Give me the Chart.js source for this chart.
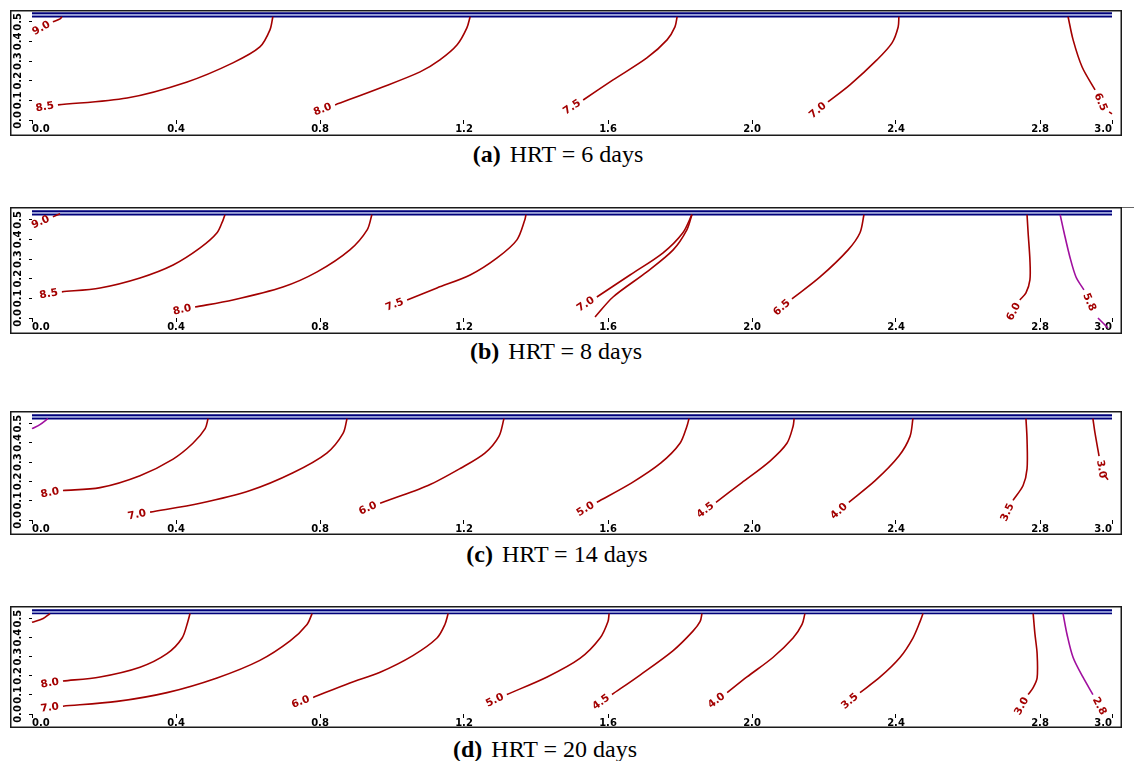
<!DOCTYPE html>
<html>
<head>
<meta charset="utf-8">
<script src="https://cdn.jsdelivr.net/npm/chart.js"></script>
<style>
  body { margin: 0; background: #fff; width: 1134px; height: 761px; position: relative; overflow: hidden; }
  canvas { position: absolute; left: 10px; }
  .cap { position: absolute; font-family: "Liberation Serif", "Times New Roman", serif; font-size: 24px;
         line-height: 24px; white-space: nowrap; transform: translateX(-50%); color: #000; }
  .cap b { margin-right: 9px; }
  .ext { position: absolute; height: 1px; background: #666; }
</style>
</head>
<body>
<div class="ext" style="left:1121px;top:207px;width:13px"></div>
<script>
// axis ticks
var xTicks = [0.0, 0.4, 0.8, 1.2, 1.6, 2.0, 2.4, 2.8, 3.0];
var yTicks = [0.0, 0.1, 0.2, 0.3, 0.4, 0.5];
// free surface (double line at the top)
var surfaceY = [0.544, 0.527];

// captions
var captionLetters = ['(a)', '(b)', '(c)', '(d)'];
var hrtDays = [6, 8, 14, 20];

// (a) HRT = 6 days -- each line starts at its label end
var aLevels = ['9.0', '8.5', '8.0', '7.5', '7.0', '6.5', ''];
var aLines = [
  [[0.058,0.500],[0.078,0.515],[0.083,0.526]],
  [[0.072,0.077],[0.264,0.112],[0.431,0.194],[0.558,0.291],[0.633,0.372],[0.661,0.459],[0.669,0.526]],
  [[0.842,0.077],[0.967,0.163],[1.078,0.245],[1.133,0.306],[1.181,0.383],[1.208,0.469],[1.217,0.526]],
  [[1.531,0.102],[1.614,0.204],[1.708,0.316],[1.764,0.408],[1.786,0.474],[1.792,0.526]],
  [[2.211,0.092],[2.272,0.179],[2.347,0.306],[2.389,0.393],[2.406,0.474],[2.408,0.526]],
  [[2.953,0.153],[2.917,0.270],[2.892,0.408],[2.878,0.526]],
  [[2.992,0.041],[3.000,0.031]]
];
var aLimitLevels = [];
var aLimitLines = [];

// (b) HRT = 8 days
var bLevels = ['9.0', '8.5', '8.0', '7.5', '7.0', '', '6.5', '6.0'];
var bLines = [
  [[0.058,0.515],[0.078,0.531]],
  [[0.083,0.133],[0.189,0.153],[0.300,0.204],[0.392,0.270],[0.467,0.357],[0.514,0.434],[0.531,0.500],[0.536,0.526]],
  [[0.453,0.056],[0.558,0.092],[0.697,0.158],[0.792,0.235],[0.883,0.347],[0.931,0.449],[0.944,0.526]],
  [[1.042,0.092],[1.125,0.153],[1.217,0.219],[1.292,0.306],[1.347,0.398],[1.369,0.500],[1.372,0.526]],
  [[1.569,0.107],[1.661,0.219],[1.753,0.332],[1.808,0.434],[1.833,0.526]],
  [[1.564,0.005],[1.614,0.107],[1.708,0.235],[1.781,0.347],[1.819,0.449],[1.833,0.526]],
  [[2.111,0.097],[2.189,0.209],[2.267,0.347],[2.300,0.434],[2.311,0.526]],
  [[2.744,0.092],[2.761,0.128],[2.772,0.194],[2.772,0.296],[2.767,0.434],[2.764,0.526]]
];
var bLimitLevels = ['5.8', ''];
var bLimitLines = [
  [[2.922,0.143],[2.900,0.209],[2.883,0.311],[2.867,0.434],[2.856,0.526]],
  [[2.961,0.000],[2.989,-0.051]]
];

// (c) HRT = 14 days
var cLevels = ['8.0', '7.0', '6.0', '5.0', '4.5', '4.0', '3.5', '3.0', ''];
var cLines = [
  [[0.086,0.153],[0.189,0.168],[0.300,0.230],[0.392,0.316],[0.447,0.398],[0.481,0.474],[0.489,0.526]],
  [[0.328,0.041],[0.467,0.087],[0.606,0.153],[0.725,0.245],[0.819,0.347],[0.864,0.449],[0.875,0.526]],
  [[0.967,0.087],[1.100,0.179],[1.192,0.270],[1.258,0.347],[1.297,0.434],[1.311,0.526]],
  [[1.569,0.092],[1.667,0.194],[1.747,0.296],[1.800,0.398],[1.819,0.485],[1.825,0.526]],
  [[1.900,0.092],[1.972,0.194],[2.050,0.306],[2.097,0.398],[2.114,0.485],[2.117,0.526]],
  [[2.269,0.092],[2.342,0.204],[2.408,0.332],[2.439,0.434],[2.447,0.526]],
  [[2.725,0.102],[2.753,0.179],[2.764,0.265],[2.764,0.418],[2.761,0.526]],
  [[2.964,0.332],[2.953,0.449],[2.947,0.526]],
  [[2.978,0.235],[2.989,0.209]]
];
var cLimitLevels = [''];
var cLimitLines = [
  [[0.000,0.474],[0.022,0.495],[0.044,0.526]]
];

// (d) HRT = 20 days
var dLevels = ['', '8.0', '7.0', '6.0', '5.0', '4.5', '4.0', '3.5', '3.0'];
var dLines = [
  [[0.000,0.480],[0.031,0.500],[0.050,0.526]],
  [[0.086,0.173],[0.189,0.194],[0.300,0.245],[0.375,0.316],[0.417,0.398],[0.433,0.485],[0.439,0.526]],
  [[0.086,0.041],[0.236,0.066],[0.375,0.112],[0.514,0.189],[0.633,0.281],[0.717,0.383],[0.764,0.469],[0.778,0.526]],
  [[0.781,0.087],[0.883,0.163],[0.967,0.219],[1.058,0.306],[1.125,0.398],[1.147,0.469],[1.156,0.526]],
  [[1.319,0.102],[1.431,0.194],[1.522,0.291],[1.578,0.398],[1.600,0.485],[1.603,0.526]],
  [[1.611,0.102],[1.689,0.204],[1.781,0.332],[1.836,0.434],[1.856,0.485],[1.861,0.526]],
  [[1.931,0.112],[1.986,0.194],[2.058,0.296],[2.114,0.398],[2.139,0.469],[2.147,0.526]],
  [[2.300,0.112],[2.356,0.194],[2.411,0.296],[2.447,0.398],[2.467,0.485],[2.475,0.526]],
  [[2.767,0.102],[2.781,0.138],[2.792,0.189],[2.792,0.316],[2.786,0.418],[2.781,0.526]]
];
var dLimitLevels = ['2.8'];
var dLimitLines = [
  [[2.947,0.102],[2.919,0.194],[2.892,0.296],[2.875,0.418],[2.864,0.526]]
];

// page layout of the four boxes (pixels)
var boxes = [
  {top: 10,  h: 126, chartTop: 12,  y0: 120, capX: 558, capTop: 142},
  {top: 207, h: 127, chartTop: 210, y0: 318, capX: 556, capTop: 339},
  {top: 411, h: 124, chartTop: 414, y0: 520, capX: 557, capTop: 542},
  {top: 606, h: 122, chartTop: 609, y0: 714, capX: 545, capTop: 737}
];

var RED = '#a30000', MAGENTA = '#a0109f', NAVY = '#00007a';
var tickFont = {family: 'DejaVu Sans', size: 10, weight: 'bold'};

function lineSet(pts, level, color) {
  return {
    data: pts.map(function (p) { return {x: p[0], y: p[1]}; }),
    level: level, showLine: true, borderColor: color, borderWidth: 1.6,
    pointRadius: 0, tension: 0.3, clip: false, fill: false
  };
}

// contour labels: put at the first point, continuing the line direction
var contourLabels = {
  id: 'contourLabels',
  afterDatasetsDraw: function (chart) {
    var ctx = chart.ctx, xs = chart.scales.x, ys = chart.scales.y;
    ctx.save();
    ctx.font = 'bold 10.5px "DejaVu Sans"';
    ctx.fillStyle = RED;
    ctx.textAlign = 'center';
    ctx.textBaseline = 'middle';
    chart.data.datasets.forEach(function (ds) {
      if (!ds.level) return;
      var p = ds.data, q = p[Math.min(2, p.length - 1)];
      var x0 = xs.getPixelForValue(p[0].x), y0 = ys.getPixelForValue(p[0].y);
      var dx = x0 - xs.getPixelForValue(q.x), dy = y0 - ys.getPixelForValue(q.y);
      var len = Math.hypot(dx, dy) || 1;
      var w = ctx.measureText(ds.level).width;
      var cx = x0 + dx / len * (w / 2 + 4), cy = y0 + dy / len * (w / 2 + 4);
      var ang = Math.atan2(dy, dx);
      if (ang > Math.PI / 2) ang -= Math.PI;
      if (ang < -Math.PI / 2) ang += Math.PI;
      ctx.save();
      ctx.translate(cx, cy);
      ctx.rotate(ang);
      ctx.fillText(ds.level, 0, 0);
      ctx.restore();
    });
    ctx.restore();
  }
};

var frame = {
  id: 'frame',
  afterDraw: function (chart) {
    var ctx = chart.ctx;
    ctx.save();
    ctx.strokeStyle = '#1a1a1a';
    ctx.lineWidth = 1.5;
    ctx.strokeRect(0.75, 0.75, chart.width - 1.5, chart.height - 1.5);
    ctx.restore();
  }
};

var panelLines = [aLines, bLines, cLines, dLines];
var panelLevels = [aLevels, bLevels, cLevels, dLevels];
var panelLimitLines = [aLimitLines, bLimitLines, cLimitLines, dLimitLines];
var panelLimitLevels = [aLimitLevels, bLimitLevels, cLimitLevels, dLimitLevels];

boxes.forEach(function (b, i) {
  var cv = document.createElement('canvas');
  cv.width = 1112;
  cv.height = b.h;
  cv.style.top = b.top + 'px';
  document.body.appendChild(cv);

  var datasets = [];
  panelLines[i].forEach(function (pts, k) { datasets.push(lineSet(pts, panelLevels[i][k], RED)); });
  panelLimitLines[i].forEach(function (pts, k) { datasets.push(lineSet(pts, panelLimitLevels[i][k], MAGENTA)); });
  // free surface double line
  datasets.push({data: [{x: 0, y: (surfaceY[0] + surfaceY[1]) / 2}, {x: 3, y: (surfaceY[0] + surfaceY[1]) / 2}],
    showLine: true, borderColor: '#8e9ad6', borderWidth: 1.4, pointRadius: 0, clip: false});
  surfaceY.forEach(function (v) {
    datasets.push({data: [{x: 0, y: v}, {x: 3, y: v}], showLine: true, borderColor: NAVY,
      borderWidth: 1.9, pointRadius: 0, clip: false});
  });

  new Chart(cv, {
    type: 'scatter',
    data: {datasets: datasets},
    options: {
      responsive: false, animation: false, devicePixelRatio: 1,
      layout: {padding: {top: b.chartTop - b.top, right: 10, left: 0, bottom: 0}},
      plugins: {legend: {display: false}, tooltip: {enabled: false}},
      scales: {
        x: {
          type: 'linear', min: 0, max: 3,
          afterBuildTicks: function (s) { s.ticks = xTicks.map(function (v) { return {value: v}; }); },
          afterFit: function (s) { s.height = b.top + b.h - b.y0; s.paddingLeft = 0; s.paddingRight = 0; },
          border: {display: false},
          grid: {drawOnChartArea: false, tickLength: 4, color: '#000'},
          ticks: {align: 'inner', padding: -1, color: '#000', font: tickFont, maxRotation: 0,
                  autoSkip: false, callback: function (v) { return v.toFixed(1); }}
        },
        y: {
          type: 'linear', min: 0, max: 0.55,
          afterBuildTicks: function (s) { s.ticks = yTicks.map(function (v) { return {value: v}; }); },
          afterFit: function (s) { s.width = 22; s.paddingTop = 0; s.paddingBottom = 0; },
          border: {display: false},
          grid: {drawOnChartArea: false, tickLength: 3, color: '#000'},
          ticks: {minRotation: 90, maxRotation: 90, crossAlign: 'center', padding: 1.5, color: '#000',
                  font: tickFont, autoSkip: false, callback: function (v) { return v.toFixed(1); }}
        }
      }
    },
    plugins: [contourLabels, frame]
  });

  var cap = document.createElement('div');
  cap.className = 'cap';
  cap.style.left = b.capX + 'px';
  cap.style.top = b.capTop + 'px';
  cap.innerHTML = '<b>' + captionLetters[i] + '</b>HRT = ' + hrtDays[i] + ' days';
  document.body.appendChild(cap);
});
</script>
</body>
</html>
